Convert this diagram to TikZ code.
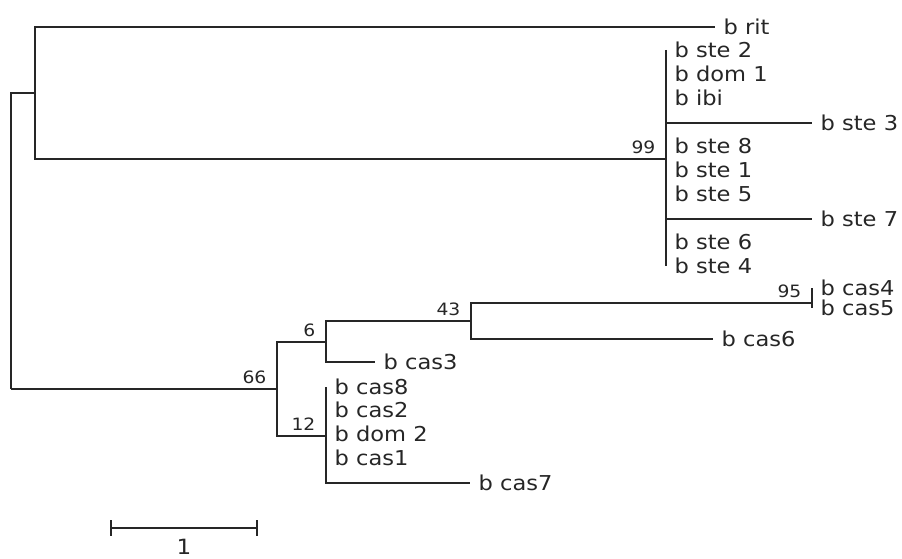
\documentclass[tikz,border=0pt]{standalone}
\usepackage{fontspec}
\setmainfont[FakeStretch=1.1]{DejaVu Sans}
\begin{document}
\begin{tikzpicture}[x=1pt,y=-1pt,line width=1.3pt,color=black!85,
  leaf/.style={anchor=west,inner xsep=8pt,inner ysep=0pt,text height=15.5pt,text depth=0pt,font=\fontsize{20.5}{24}\selectfont},
  boot/.style={anchor=south east,inner sep=0pt,xshift=-10pt,yshift=5pt,font=\fontsize{17}{20}\selectfont}]
  \useasboundingbox (0,0) rectangle (902,559);
  % inner nodes
  \coordinate (root) at (11,389);
  \coordinate (nste) at (35,93);
  \coordinate (n99) at (666,159);
  \coordinate (n66) at (277,389);
  \coordinate (n6) at (326,342);
  \coordinate (n12) at (326,436);
  \coordinate (n43) at (471,321);
  \coordinate (n95) at (812,303);
  % taxa
  \node[leaf] (rit) at (715,27) {b rit};
  \node[leaf] (ste2) at (666,50) {b ste 2};
  \node[leaf] (dom1) at (666,74) {b dom 1};
  \node[leaf] (ibi) at (666,98) {b ibi};
  \node[leaf] (ste3) at (812,123) {b ste 3};
  \node[leaf] (ste8) at (666,146) {b ste 8};
  \node[leaf] (ste1) at (666,170) {b ste 1};
  \node[leaf] (ste5) at (666,194) {b ste 5};
  \node[leaf] (ste7) at (812,219) {b ste 7};
  \node[leaf] (ste6) at (666,242) {b ste 6};
  \node[leaf] (ste4) at (666,266) {b ste 4};
  \node[leaf] (cas4) at (812,288) {b cas4};
  \node[leaf] (cas5) at (812,308) {b cas5};
  \node[leaf] (cas6) at (713,339) {b cas6};
  \node[leaf] (cas3) at (375,362) {b cas3};
  \node[leaf] (cas8) at (326,387) {b cas8};
  \node[leaf] (cas2) at (326,410) {b cas2};
  \node[leaf] (dom2) at (326,434) {b dom 2};
  \node[leaf] (cas1) at (326,458) {b cas1};
  \node[leaf] (cas7) at (470,483) {b cas7};
  % branches
  \draw (root) |- (nste);
  \draw (root) -- (n66);
  \draw (nste) |- (rit.west);
  \draw (nste) -- (nste |- n99) -- (n99);
  \draw (ste2.west) -- (ste4.west);
  \draw (n99) |- (ste3.west);
  \draw (n99) |- (ste7.west);
  \draw (n66) |- (n6);
  \draw (n66) |- (n12);
  \draw (n6) |- (n43);
  \draw (n6) |- (cas3.west);
  \draw (n43) |- (n95);
  \draw (n43) |- (cas6.west);
  \draw (cas4.west) -- (cas5.west);
  \draw (cas8.west) |- (cas7.west);
  % bootstrap values
  \node[boot] (b99) at (n99) {99};
  \node[boot] (b66) at (n66) {66};
  \node[boot] (b6) at (n6) {6};
  \node[boot] (b43) at (n43) {43};
  \node[boot] (b12) at (n12) {12};
  \node[boot] (b95) at (n95) {95};
  % scale
  \coordinate (sbl) at (111,528);
  \coordinate (sbr) at (257,528);
  \draw (sbl) -- (sbr)
    node[midway,below=11pt,inner sep=0pt,font=\fontsize{21}{24}\selectfont] (unit) {1};
  \draw ([yshift=8pt]sbl) -- ([yshift=-8pt]sbl);
  \draw ([yshift=8pt]sbr) -- ([yshift=-8pt]sbr);
\end{tikzpicture}
\end{document}
